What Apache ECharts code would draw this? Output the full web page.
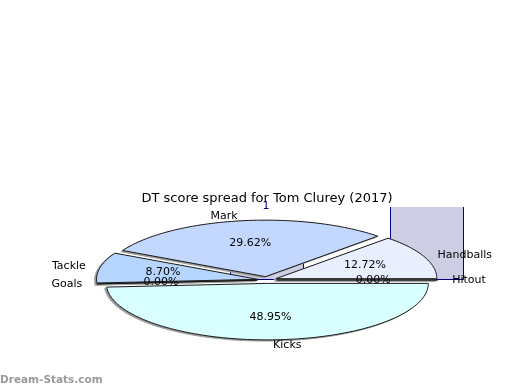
<!DOCTYPE html>
<html><head><meta charset="utf-8">
<script src="https://cdn.jsdelivr.net/npm/echarts@6/dist/echarts.min.js"></script>
<style>html,body{margin:0;padding:0;background:#fff}#c{width:520px;height:390px}</style>
</head><body><div id="c"></div>
<script>
const titleText = 'DT score spread for Tom Clurey (2017)';
const sliceNames = ['Kicks', 'Goals', 'Tackle', 'Mark', 'Handballs', 'Hitout'];
const sliceValues = [48.95, 0, 8.70, 29.62, 12.72, 0];
const sliceColors = ['#d9ffff', '#c8d8ff', '#b6d6ff', '#c4d8ff', '#e9effe', '#d0d0ff'];
const barCategories = ['1', ''];
const barValues = [0.5, 1];
const watermark = 'Dream-Stats.com';

const FONT = '"DejaVu Sans", sans-serif';
const CX = 267, CY = 280, RX = 161, RY = 56.5, EXPLODE = 0.06;
const BAR_W = 73;
const total = sliceValues.reduce((a, b) => a + b, 0);
const angles = [];
let acc = 0;
sliceValues.forEach(v => {
  const s = acc / total * 2 * Math.PI; acc += v;
  const e = acc / total * 2 * Math.PI;
  angles.push([s, e]);
});

function renderSlice(params, api) {
  const i = params.dataIndex;
  const val = api.value(0);
  const [s, e] = angles[i];
  const m = (s + e) / 2;
  const cos = Math.cos(m), sin = Math.sin(m);
  const cx = CX + EXPLODE * RX * cos, cy = CY + EXPLODE * RY * sin;
  const pts = [[cx, cy]];
  const n = Math.max(2, Math.ceil((e - s) / (Math.PI / 120)));
  for (let k = 0; k <= n; k++) {
    const t = s + (e - s) * k / n;
    pts.push([cx + RX * Math.cos(t), cy + RY * Math.sin(t)]);
  }
  const pct = (val / total * 100).toFixed(2) + '%';
  return {
    type: 'group',
    children: [
      { type: 'polygon', z2: 0, shape: { points: pts.map(p => [p[0] - 2, p[1] + 1.2]) },
        style: { fill: '#999999', stroke: '#a0a0a0', lineWidth: 1 } },
      { type: 'polygon', z2: 1, shape: { points: pts },
        style: { fill: sliceColors[i], stroke: '#1a1a1a', lineWidth: 1 } },
      { type: 'text', z2: 5, x: cx + RX * 0.6 * cos, y: cy + RY * 0.6 * sin,
        style: { text: pct, font: '11px ' + FONT, fill: '#000', align: 'center', verticalAlign: 'middle' } },
      { type: 'text', z2: 5, x: cx + RX * 1.09 * cos, y: cy + RY * 1.09 * sin,
        style: { text: sliceNames[i], font: '11px ' + FONT, fill: '#000',
                 align: cos >= 0 ? 'left' : 'right', verticalAlign: 'middle' } }
    ]
  };
}

function renderBar(params, api) {
  const cat = api.value(0), v = api.value(1);
  const topPt = api.coord([cat, v]);
  const basePt = api.coord([cat, 0]);
  const cs = params.coordSys;
  const clipped = topPt[1] < cs.y;
  const yTop = clipped ? cs.y : Math.round(topPt[1]) + 0.5;
  const yBot = Math.round(basePt[1]) + 0.5;
  const x0 = Math.round(topPt[0] - BAR_W / 2) + 0.5;
  const x1 = x0 + BAR_W;
  const border = clipped
    ? { type: 'polyline', shape: { points: [[x0, yTop], [x0, yBot], [x1, yBot], [x1, yTop]] } }
    : { type: 'polygon', shape: { points: [[x0, yTop], [x0, yBot], [x1, yBot], [x1, yTop]] } };
  border.style = { fill: null, stroke: '#000080', lineWidth: 1 };
  return {
    type: 'group',
    children: [
      { type: 'rect', shape: { x: x0, y: yTop, width: BAR_W, height: yBot - yTop },
        style: { fill: '#cdcde3' } },
      border
    ]
  };
}

const chart = echarts.init(document.getElementById('c'), null, { renderer: 'canvas' });
chart.setOption({
  animation: false,
  backgroundColor: '#fff',
  grid: { left: 185.75, width: 321, top: 207, height: 72, containLabel: false },
  xAxis: {
    type: 'category', data: barCategories, position: 'top',
    axisLine: { show: false }, axisTick: { show: false }, splitLine: { show: false },
    axisLabel: { color: '#000080', fontSize: 11, fontFamily: FONT, margin: -5 }
  },
  yAxis: { type: 'value', min: 0, max: 0.8, show: false, splitLine: { show: false } },
  graphic: [
    { type: 'text', x: 267, y: 199, z: 10,
      style: { text: titleText, font: '13px ' + FONT, fill: '#000', align: 'center', verticalAlign: 'middle' } },
    { type: 'text', x: 0, y: 380, z: 10,
      style: { text: watermark, font: 'bold 10.5px ' + FONT, fill: '#9a9a9a', align: 'left', verticalAlign: 'middle' } }
  ],
  series: [
    { type: 'custom', coordinateSystem: 'cartesian2d', silent: true, z: 1,
      data: barValues.map((v, i) => [i, v]), encode: { x: 0, y: 1 },
      renderItem: renderBar },
    { type: 'custom', coordinateSystem: 'none', silent: true, z: 3,
      data: sliceValues.map((v, i) => ({ name: sliceNames[i], value: [v] })),
      renderItem: renderSlice }
  ]
});
</script>
</body></html>
